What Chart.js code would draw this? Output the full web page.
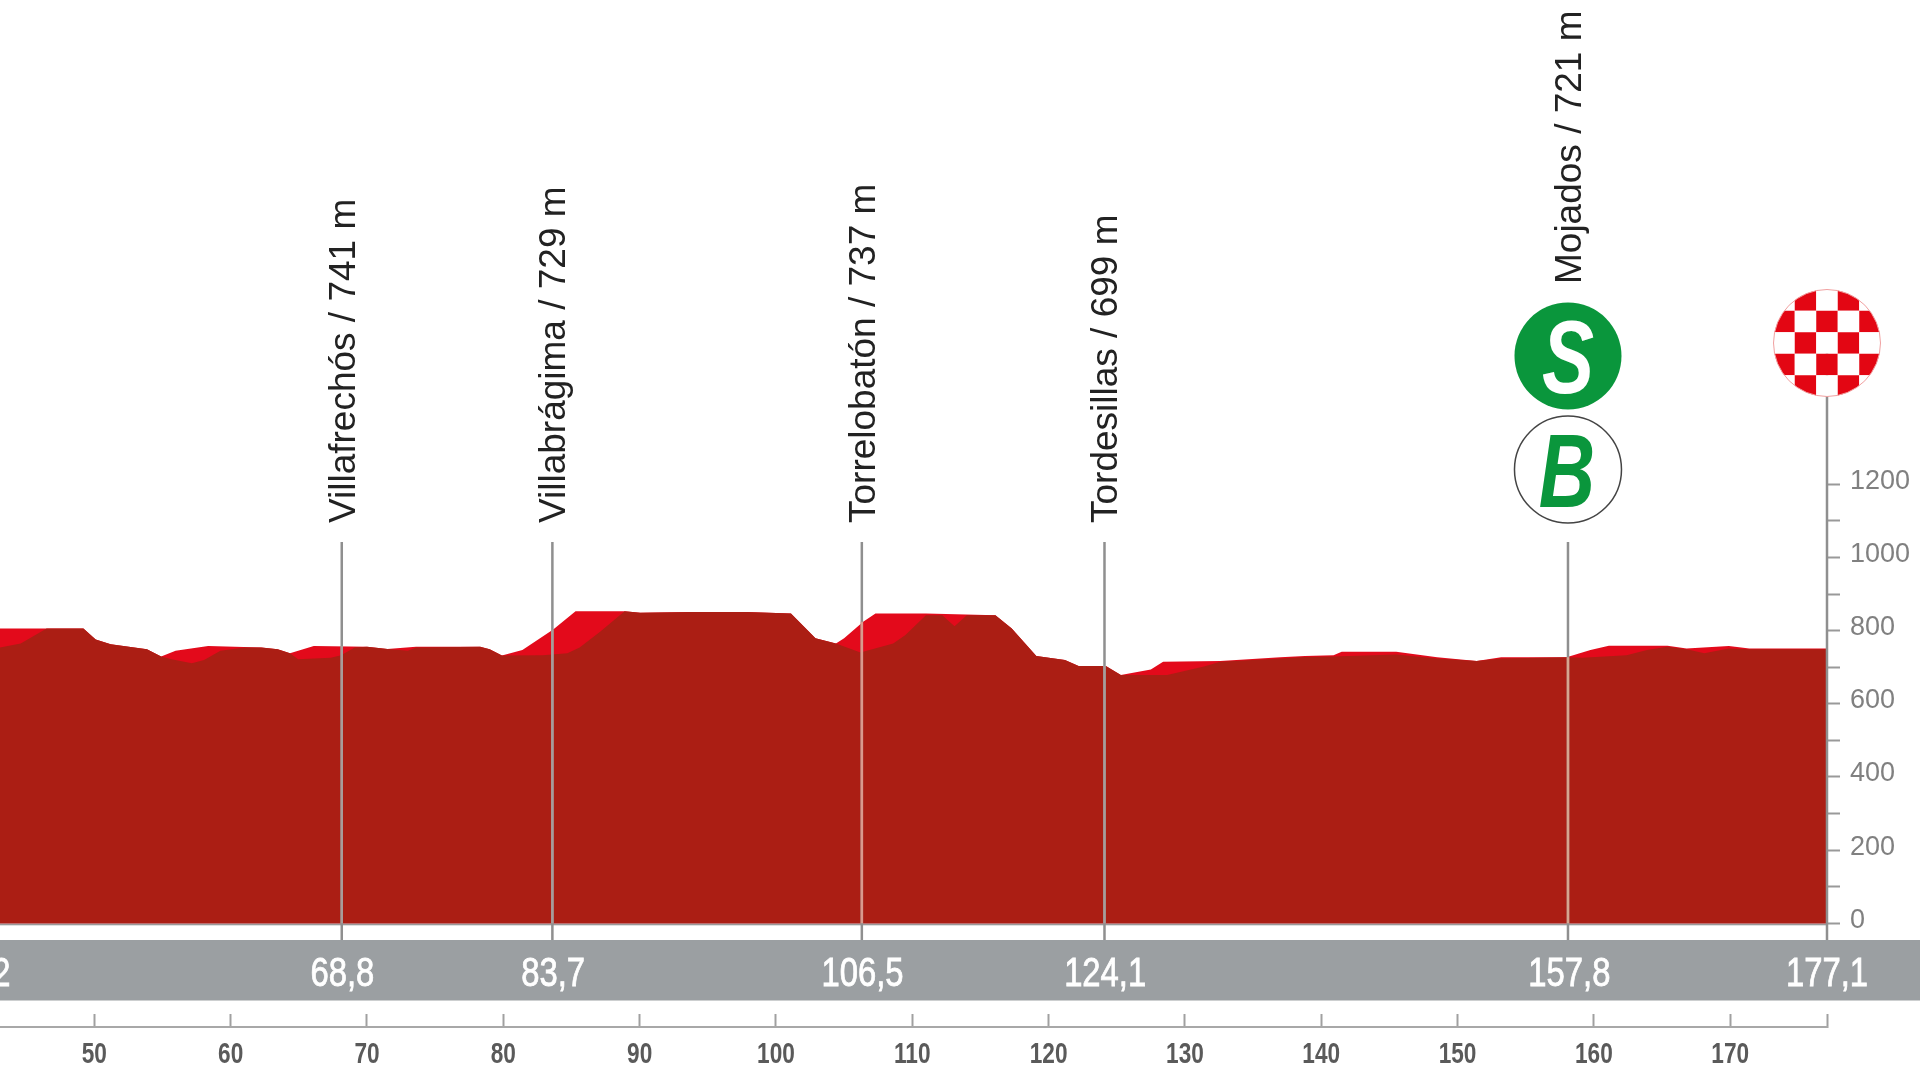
<!DOCTYPE html>
<html>
<head>
<meta charset="utf-8">
<title>Perfil de etapa</title>
<script src="https://cdn.jsdelivr.net/npm/chart.js@4"></script>
<style>
  html, body { margin: 0; padding: 0; background: #fff; overflow: hidden; }
  canvas { display: block; }
</style>
</head>
<body>
<canvas id="profileChart" width="1920" height="1081"></canvas>
<script>
// true road profile (dark red)
let profileKm = [43.08, 44.6, 46.5, 49.2, 50.1, 51.2, 53.86, 54.9, 55.66, 57.15, 58.05, 59.25, 61.05, 62.25, 63.45, 64.35, 64.95, 67.35, 68.1, 69.1, 70, 71.5, 73, 73.6, 78.3, 79, 79.9, 82.9, 84.7, 85.6, 87.1, 88.9, 90.04, 93.9, 97.8, 101.1, 102.9, 104.4, 106.2, 108.6, 109.5, 111, 112.2, 113.1, 114, 116.1, 117.3, 119.1, 121.2, 122.2, 124.2, 125.3, 128.7, 131.4, 132.6, 137, 138.8, 140.9, 145.5, 148.5, 151.4, 153.2, 158, 159.15, 162.4, 163.9, 165.4, 166.8, 168.1, 169.9, 171.4, 177.1];
let profileElev = [754, 765, 806, 806, 776, 763, 749, 729, 722, 711, 720, 745, 754, 754, 749, 738, 722, 726, 733, 754, 756, 750, 745, 754, 756, 749, 732, 733, 738, 754, 797, 853, 849, 851, 851, 847, 779, 765, 740, 765, 788, 842, 842, 812, 842, 842, 806, 731, 720, 703, 703, 679, 679, 702, 715, 724, 728, 729, 735, 724, 717, 724, 727, 726, 733, 747, 756, 749, 738, 751, 749, 749];

// upper outline of the climbs (bright red, shows above the profile)
let climbKm = [43.08, 46.5, 49.2, 50.1, 51.2, 53.86, 54.9, 55.96, 58.35, 62.25, 63.45, 64.35, 66.1, 70, 71.5, 73.6, 78.3, 79, 79.9, 81.4, 83.66, 85.3, 88.9, 90.04, 93.9, 97.8, 101.1, 102.9, 104.4, 105, 106.4, 107.3, 111, 116.1, 117.3, 119.1, 121.2, 122.2, 124.2, 125.3, 127.5, 128.4, 132.6, 137, 138.8, 140.9, 141.5, 145.5, 148.5, 151.4, 153.2, 158, 159.75, 161.1, 165.4, 166.8, 169.9, 171.4, 177.1];
let climbElev = [806, 806, 806, 776, 763, 749, 729, 745, 758, 754, 749, 738, 758, 756, 750, 756, 756, 749, 732, 747, 803, 853, 853, 849, 851, 851, 847, 779, 765, 779, 824, 847, 847, 842, 806, 731, 720, 703, 703, 679, 694, 715, 717, 727, 731, 733, 742, 742, 727, 717, 727, 727, 747, 759, 759, 751, 758, 751, 751];

// where each checkpoint sits on the drawing
let pointKm = [68.15, 83.6, 106.3, 124.1, 158.1];
let pointNames = ["Villafrechós / 741 m", "Villabrágima / 729 m", "Torrelobatón / 737 m", "Tordesillas / 699 m", "Mojados / 721 m"];
let pointTop = [758, 803, 824, 703, 727];
let pointTextBottom = [523, 523, 523, 523, 284];
let pointInnerColor = ["#a89c9a", "#a89c9a", "#d9998d", "#a89c9a", "#d6a68f"];

let bandKm = [41.5, 68.2, 83.65, 106.35, 124.15, 158.2, 177.1];
let bandLabels = ["41,2", "68,8", "83,7", "106,5", "124,1", "157,8", "177,1"];

let kmTicks = [50, 60, 70, 80, 90, 100, 110, 120, 130, 140, 150, 160, 170, 177.1];
let kmLabels = ["50", "60", "70", "80", "90", "100", "110", "120", "130", "140", "150", "160", "170", ""];
let elevTicks = [0, 100, 200, 300, 400, 500, 600, 700, 800, 900, 1000, 1100, 1200];

const darkRed = "#ab1e14";
const brightRed = "#e30a1b";
const green = "#0a963c";
const lineGrey = "#8f8f8f";

// no condensed font is installed, so squeeze the text sideways
function squeezedText(ctx, text, x, y, squeeze, strokeWidth) {
  ctx.save();
  ctx.translate(x, y);
  ctx.scale(squeeze, 1);
  ctx.fillText(text, 0, 0);
  if (strokeWidth) {
    ctx.lineWidth = strokeWidth;
    ctx.strokeStyle = ctx.fillStyle;
    ctx.strokeText(text, 0, 0);
  }
  ctx.restore();
}

const overlays = {
  id: "overlays",
  beforeDatasetsDraw(chart) {
    const { ctx, scales } = chart;
    ctx.save();
    // grey band behind the km labels
    ctx.fillStyle = "#9b9fa2";
    ctx.fillRect(0, 940, 1920, 60.5);
    // baseline under the profile
    ctx.fillStyle = "#9a9a9a";
    ctx.fillRect(0, scales.y.getPixelForValue(0), scales.x.right, 2);
    ctx.restore();
  },
  afterDatasetsDraw(chart) {
    const { ctx, scales } = chart;
    const x = scales.x;
    const y = scales.y;
    ctx.save();

    // checkpoint lines, lighter where they cross the red
    ctx.lineWidth = 2.5;
    pointKm.forEach((km, i) => {
      let px = x.getPixelForValue(km);
      ctx.strokeStyle = lineGrey;
      ctx.beginPath();
      ctx.moveTo(px, 542);
      ctx.lineTo(px, 940);
      ctx.stroke();
      ctx.strokeStyle = pointInnerColor[i];
      ctx.beginPath();
      ctx.moveTo(px, y.getPixelForValue(pointTop[i]));
      ctx.lineTo(px, y.getPixelForValue(0));
      ctx.stroke();
    });
    // finish line doubles as the elevation axis
    let finishX = x.getPixelForValue(177.1);
    ctx.strokeStyle = lineGrey;
    ctx.beginPath();
    ctx.moveTo(finishX, 343);
    ctx.lineTo(finishX, 940);
    ctx.stroke();

    // vertical place names
    ctx.fillStyle = "#222";
    ctx.font = "37px 'Liberation Sans'";
    ctx.textAlign = "left";
    ctx.textBaseline = "alphabetic";
    pointNames.forEach((name, i) => {
      ctx.save();
      ctx.translate(x.getPixelForValue(pointKm[i]) + 13, pointTextBottom[i]);
      ctx.rotate(-Math.PI / 2);
      ctx.fillText(name, 0, 0);
      ctx.restore();
    });

    // km labels in the band
    ctx.fillStyle = "#fff";
    ctx.font = "40px 'Liberation Sans'";
    ctx.textAlign = "center";
    ctx.textBaseline = "middle";
    bandKm.forEach((km, i) => {
      squeezedText(ctx, bandLabels[i], x.getPixelForValue(km), 975, 0.82, 0.8);
    });

    // km axis labels
    ctx.fillStyle = "#5a5a5a";
    ctx.font = "bold 29px 'Liberation Sans'";
    kmTicks.forEach((km, i) => {
      squeezedText(ctx, kmLabels[i], x.getPixelForValue(km), 1055, 0.78);
    });

    // S and B badges over Mojados
    let badgeX = x.getPixelForValue(158.1);
    ctx.fillStyle = "#fff";
    ctx.strokeStyle = "#444";
    ctx.lineWidth = 1.5;
    ctx.beginPath();
    ctx.arc(badgeX, 469.5, 53.5, 0, Math.PI * 2);
    ctx.fill();
    ctx.stroke();
    ctx.fillStyle = green;
    ctx.beginPath();
    ctx.arc(badgeX, 356, 53.5, 0, Math.PI * 2);
    ctx.fill();
    ctx.font = "italic bold 104px 'Liberation Sans'";
    ctx.textBaseline = "alphabetic";
    squeezedText(ctx, "B", badgeX - 1, 507, 0.75);
    ctx.fillStyle = "#fff";
    squeezedText(ctx, "S", badgeX, 393, 0.75);

    // finish flag
    let cell = 21.5;
    ctx.save();
    ctx.beginPath();
    ctx.arc(finishX, 343, 53.5, 0, Math.PI * 2);
    ctx.clip();
    for (let row = 0; row < 5; row++) {
      for (let col = 0; col < 5; col++) {
        ctx.fillStyle = (row + col) % 2 === 0 ? "#fff" : "#e30613";
        ctx.fillRect(finishX + (col - 2.5) * cell, 343 + (row - 2.5) * cell, cell, cell);
      }
    }
    ctx.restore();
    ctx.strokeStyle = "#f0a0a0";
    ctx.lineWidth = 1;
    ctx.beginPath();
    ctx.arc(finishX, 343, 53.5, 0, Math.PI * 2);
    ctx.stroke();

    ctx.restore();
  },
};

new Chart(document.getElementById("profileChart").getContext("2d"), {
  type: "line",
  data: {
    datasets: [
      {
        label: "Perfil",
        data: profileKm.map((km, i) => ({ x: km, y: profileElev[i] })),
        borderWidth: 0,
        pointRadius: 0,
        tension: 0,
        fill: "origin",
        backgroundColor: darkRed,
      },
      {
        label: "Subidas",
        data: climbKm.map((km, i) => ({ x: km, y: climbElev[i] })),
        borderWidth: 0,
        pointRadius: 0,
        tension: 0,
        fill: "origin",
        backgroundColor: brightRed,
      },
    ],
  },
  options: {
    responsive: false,
    animation: false,
    devicePixelRatio: 1,
    layout: { padding: 0 },
    plugins: { legend: { display: false }, tooltip: { enabled: false } },
    scales: {
      x: {
        type: "linear",
        min: 43.08,
        max: 177.1,
        afterBuildTicks: (axis) => {
          axis.ticks = kmTicks.map((v) => ({ value: v }));
        },
        afterFit: (axis) => {
          axis.height = 54;
        },
        border: { display: true, color: "#a8a8a8", width: 2 },
        grid: { drawOnChartArea: false, tickLength: -13, tickColor: "#a0a0a0", tickWidth: 2 },
        ticks: { display: false, autoSkip: false, maxRotation: 0 },
      },
      y: {
        position: "right",
        min: -283.4,
        max: 2480,
        afterBuildTicks: (axis) => {
          axis.ticks = elevTicks.map((v) => ({ value: v }));
        },
        afterFit: (axis) => {
          axis.width = 93;
        },
        border: { display: false },
        grid: { drawOnChartArea: false, tickLength: 13, tickColor: "#999", tickWidth: 2 },
        ticks: {
          padding: 10,
          color: "#808080",
          font: { family: "'Liberation Sans'", size: 27, lineHeight: "6px" },
          // the empty second line lifts the label a little above its tick
          callback: (v) => (v % 200 === 0 ? [String(v), ""] : ""),
        },
      },
    },
  },
  plugins: [overlays],
});
</script>
</body>
</html>
